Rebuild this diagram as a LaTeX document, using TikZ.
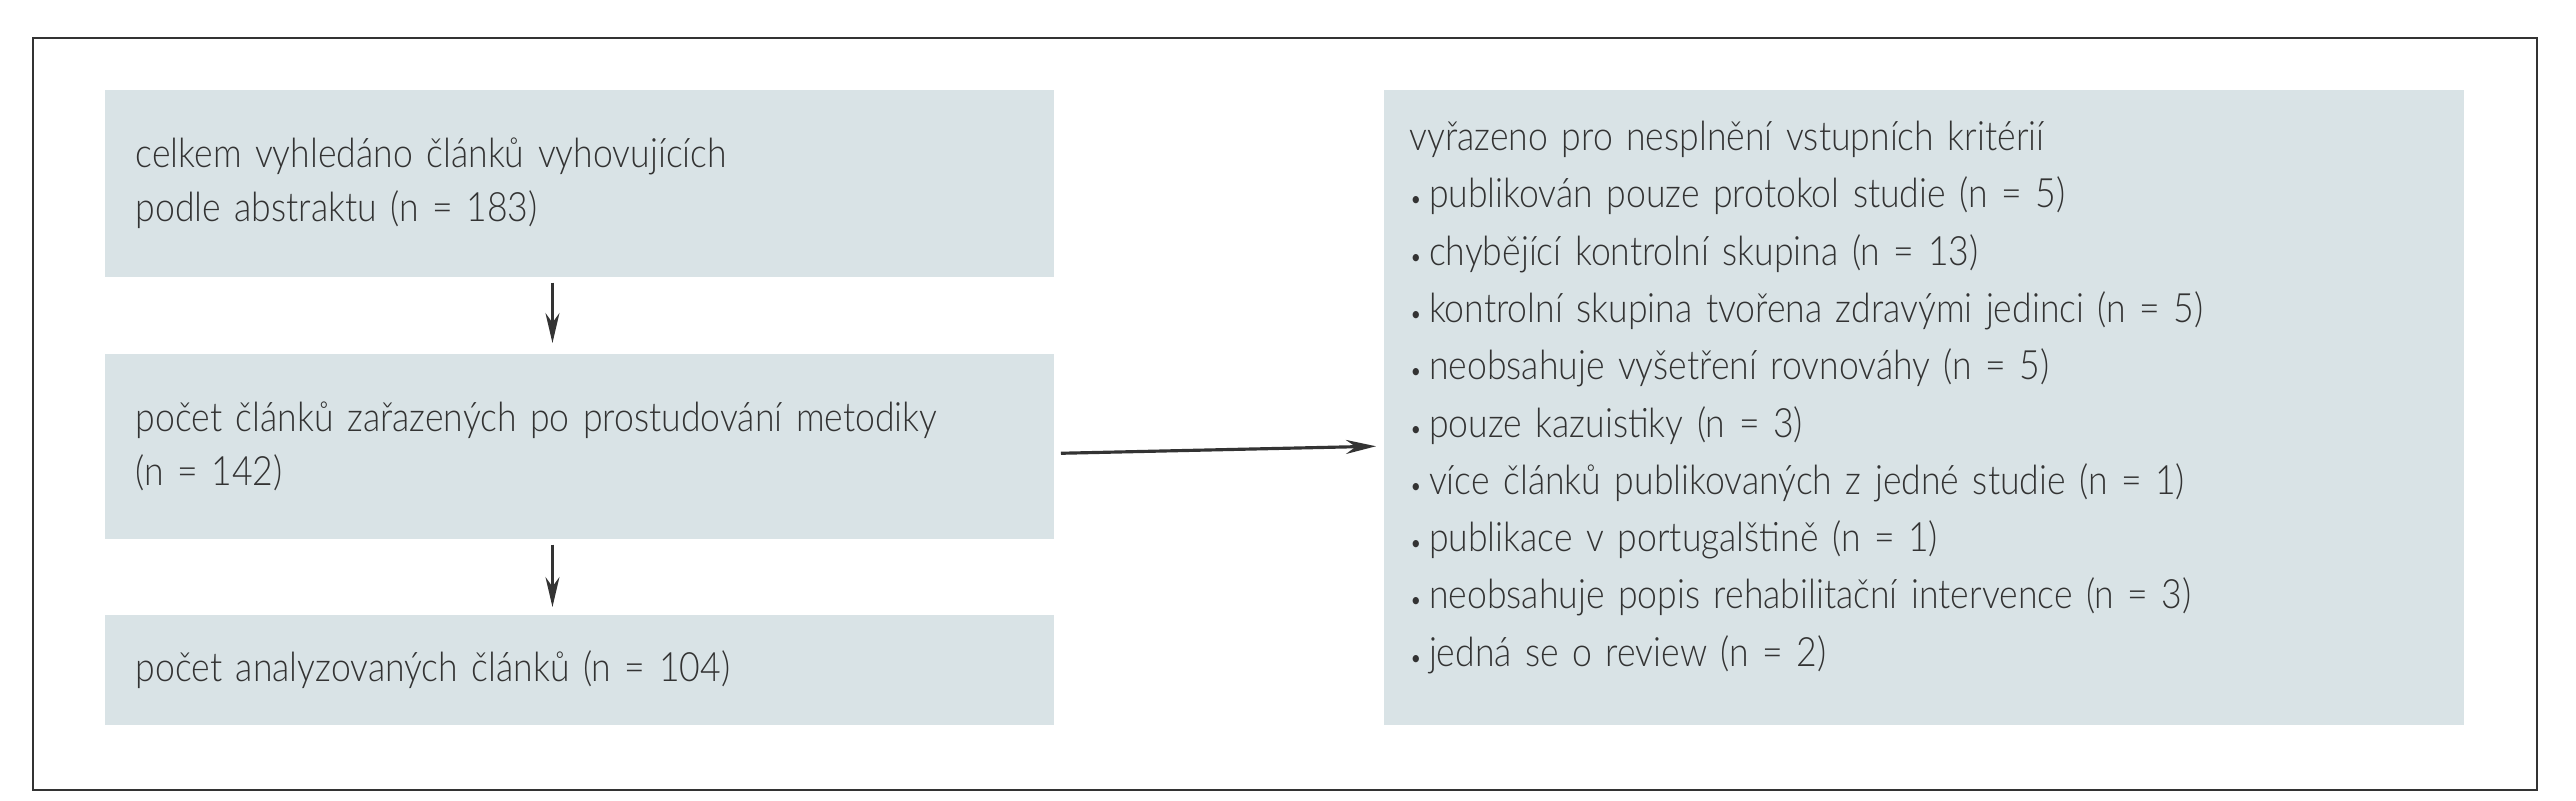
\documentclass[tikz,border=0pt]{standalone}
\usepackage{fontspec}
\setmainfont[FakeStretch=0.88]{Lato Light}
\usetikzlibrary{arrows.meta,positioning}
\definecolor{boxfill}{HTML}{D9E3E6}
\definecolor{ink}{HTML}{333333}
\begin{document}
\begin{tikzpicture}[x=0.01cm, y=-0.01cm,
  box/.style={fill=boxfill, anchor=north west, text=ink, align=left,
    font=\fontsize{11.5}{15.5}\selectfont, inner sep=0pt},
  arr/.style={-{Stealth[length=0.3cm,width=0.14cm]}, ink}]
  \newcommand{\itm}{{\scriptsize\textbullet}\,}
  \useasboundingbox (0,0) rectangle (2576,800);
  \draw[line width=0.7pt, ink] (33,38) rectangle (2537,790);
  \node[box, minimum width=9.49cm, minimum height=1.87cm] (found) at (104,89) {};
  \node[box, anchor=west, text width=8.9cm] at ([xshift=0.31cm]found.west)
    {celkem vyhledáno článků vyhovujících\\podle abstraktu (n = 183)};
  \node[box, minimum width=9.49cm, minimum height=1.85cm] (incl) at (104,353) {};
  \node[box, anchor=west, text width=8.9cm] at ([xshift=0.31cm]incl.west)
    {počet článků zařazených po prostudování metodiky\\(n = 142)};
  \node[box, minimum width=9.49cm, minimum height=1.10cm] (anal) at (104,614) {};
  \node[box, anchor=west, text width=8.9cm] at ([xshift=0.31cm]anal.west)
    {počet analyzovaných článků (n = 104)};
  \node[box, minimum width=10.80cm, minimum height=6.35cm] (excl) at (1383,89) {};
  \node[box, anchor=west, text width=10.3cm, font=\fontsize{11.5}{16.3}\selectfont]
    at ([xshift=0.26cm, yshift=0.10cm]excl.west)
    {vyřazeno pro nesplnění vstupních kritérií\\
     \itm publikován pouze protokol studie (n = 5)\\
     \itm chybějící kontrolní skupina (n = 13)\\
     \itm kontrolní skupina tvořena zdravými jedinci (n = 5)\\
     \itm neobsahuje vyšetření rovnováhy (n = 5)\\
     \itm pouze kazuistiky (n = 3)\\
     \itm více článků publikovaných z jedné studie (n = 1)\\
     \itm publikace v portugalštině (n = 1)\\
     \itm neobsahuje popis rehabilitační intervence (n = 3)\\
     \itm jedná se o review (n = 2)};
  \draw[arr, line width=0.6pt] ([xshift=-0.27cm, yshift=-0.05cm]found.south) -- ([xshift=-0.27cm, yshift=0.10cm]incl.north);
  \draw[arr, line width=0.6pt] ([xshift=-0.27cm, yshift=-0.05cm]incl.south) -- ([xshift=-0.27cm, yshift=0.07cm]anal.north);
  \draw[arr, line width=0.9pt] ([xshift=0.06cm, yshift=-0.07cm]incl.east) -- ([xshift=-0.07cm]incl.east -| excl.west);
\end{tikzpicture}
\end{document}
